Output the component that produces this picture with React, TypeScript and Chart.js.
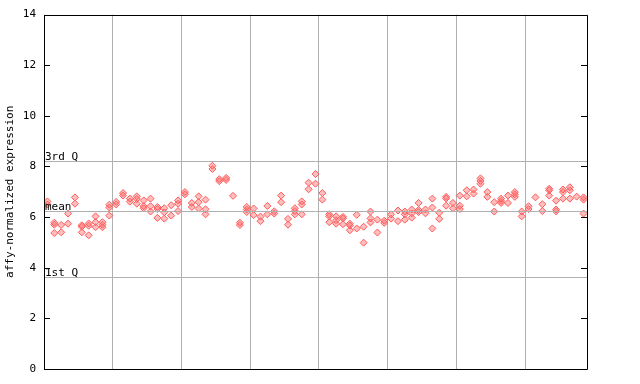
import React, { useEffect, useRef } from "react";
import { Chart, registerables } from "chart.js";

Chart.register(...registerables);

const N = null;
const repA = [6.62,5.78,5.69,6.14,6.78,5.68,5.75,6.03,5.8,6.49,6.6,6.95,6.73,6.82,6.66,6.73,6.4,6.35,6.47,6.66,6.99,6.56,6.82,6.69,8.03,7.5,7.55,6.84,5.78,6.4,6.34,6.02,6.44,6.23,6.85,5.93,6.35,6.62,7.36,7.7,6.95,6.11,6.03,6.01,5.74,6.09,5.62,6.22,5.9,5.86,6.11,6.26,6.22,6.3,6.56,6.3,6.73,6.17,6.8,6.56,6.85,7.06,7.09,7.53,6.99,6.59,6.73,6.85,6.99,6.22,6.43,6.78,6.51,7.12,6.65,7.09,7.18,6.81,6.78];
const repB = [6.5,5.7,5.4,5.74,6.53,5.62,5.66,5.8,5.7,6.38,6.5,6.85,6.61,6.72,6.43,6.43,6.32,6.19,6.06,6.53,6.9,6.4,6.59,6.31,7.9,7.42,7.47,N,5.69,6.3,6.08,5.84,6.11,6.14,6.59,5.7,6.24,6.5,7.1,7.32,6.69,6.03,5.88,5.95,5.67,5.55,4.99,5.95,5.39,5.77,5.94,5.84,6.11,6.15,6.28,6.15,6.38,5.93,6.74,6.35,6.45,6.82,6.93,7.43,6.8,6.22,6.64,6.56,6.9,6.03,6.32,N,6.24,7.06,6.3,6.99,7.06,N,6.69];
const repC = [N,5.37,N,N,N,5.4,5.28,5.6,5.6,6.06,N,N,N,6.53,6.35,6.22,5.97,5.94,N,6.24,N,N,6.34,6.11,N,N,N,N,N,6.2,N,N,N,N,N,N,6.11,6.11,N,N,N,5.8,5.74,5.72,5.48,N,N,5.79,N,N,N,N,5.9,5.98,6.2,N,5.55,N,6.45,N,6.32,N,N,7.32,N,N,6.56,N,6.8,N,N,N,N,6.85,6.23,6.73,6.73,N,6.14];

const yTicks = [0, 2, 4, 6, 8, 10, 12, 14];
const refLines = [
  { label: "3rd Q", value: 8.23 },
  { label: "mean", value: 6.23 },
  { label: "1st Q", value: 3.63 },
];
const COLS = 79;
const GROUP = 10;

const FONT = "'DejaVu Sans Mono', monospace";

export default function App() {
  const ref = useRef<HTMLCanvasElement | null>(null);
  useEffect(() => {
    if (!ref.current) return;
    const toPts = (arr: (number | null)[]) =>
      arr
        .map((v, i) => (v == null ? null : { x: i + 0.5, y: v }))
        .filter((p) => p !== null);
    const ds = [repA, repB, repC].map((arr) => ({
      data: toPts(arr),
      pointStyle: "rectRot",
      pointRadius: 3.5,
      pointBorderWidth: 1,
      pointBorderColor: "#ff5a5a",
      pointBackgroundColor: "rgba(255,110,110,0.45)",
      showLine: false,
    }));

    const framePlugin = {
      id: "frame",
      afterDraw(chart: any) {
        const { ctx, chartArea: a, scales } = chart;
        const y = scales.y;
        ctx.save();
        // reference lines
        ctx.strokeStyle = "#b0b0b0";
        ctx.lineWidth = 1;
        ctx.font = "11px " + FONT;
        ctx.fillStyle = "#000";
        ctx.textAlign = "left";
        ctx.textBaseline = "alphabetic";
        refLines.forEach((r) => {
          const py = Math.round(y.getPixelForValue(r.value)) + 0.5;
          ctx.beginPath();
          ctx.moveTo(a.left, py);
          ctx.lineTo(a.right, py);
          ctx.stroke();
          ctx.fillText(r.label, a.left + 1, py - 2);
        });
        // frame
        ctx.strokeStyle = "#000";
        ctx.beginPath();
        ctx.rect(Math.round(a.left) + 0.5, Math.round(a.top) + 0.5, Math.round(a.right - a.left), Math.round(a.bottom - a.top));
        ctx.stroke();
        // inward ticks
        yTicks.forEach((t) => {
          const py = Math.round(y.getPixelForValue(t)) + 0.5;
          ctx.beginPath();
          ctx.moveTo(a.left, py);
          ctx.lineTo(a.left + 6, py);
          ctx.moveTo(a.right - 6, py);
          ctx.lineTo(a.right, py);
          ctx.stroke();
        });
        ctx.restore();
      },
    };

    const chart = new Chart(ref.current, {
      type: "scatter",
      data: { datasets: ds as any },
      options: {
        animation: false,
        responsive: false,
        maintainAspectRatio: false,
        layout: { padding: { left: 0, top: 13, right: 53, bottom: 15 } },
        plugins: { legend: { display: false }, tooltip: { enabled: false } },
        scales: {
          x: {
            type: "linear",
            min: 0,
            max: COLS,
            border: { display: false },
            grid: { color: "#b0b0b0", drawTicks: false },
            ticks: { display: false, stepSize: GROUP },
            afterFit: (s: any) => {
              s.height = 0;
            },
          },
          y: {
            min: 0,
            max: 14,
            border: { display: false },
            grid: { display: false, drawTicks: false },
            afterBuildTicks: (s: any) => {
              s.ticks = yTicks.map((v) => ({ value: v }));
            },
            ticks: {
              padding: 8,
              color: "#000",
              font: { family: FONT, size: 11 },
            },
            title: {
              display: true,
              text: "affy-normalized expression",
              color: "#000",
              font: { family: FONT, size: 11 },
              padding: { top: 4, bottom: 0 },
            },
            afterFit: (s: any) => {
              s.width = 44;
            },
          },
        },
      },
      plugins: [framePlugin],
    } as any);
    return () => chart.destroy();
  }, []);

  return (
    <div style={{ position: "fixed", left: 0, top: 0, width: 640, height: 384, background: "#fff" }}>
      <canvas ref={ref} width={640} height={384} style={{ width: 640, height: 384 }} />
    </div>
  );
}
